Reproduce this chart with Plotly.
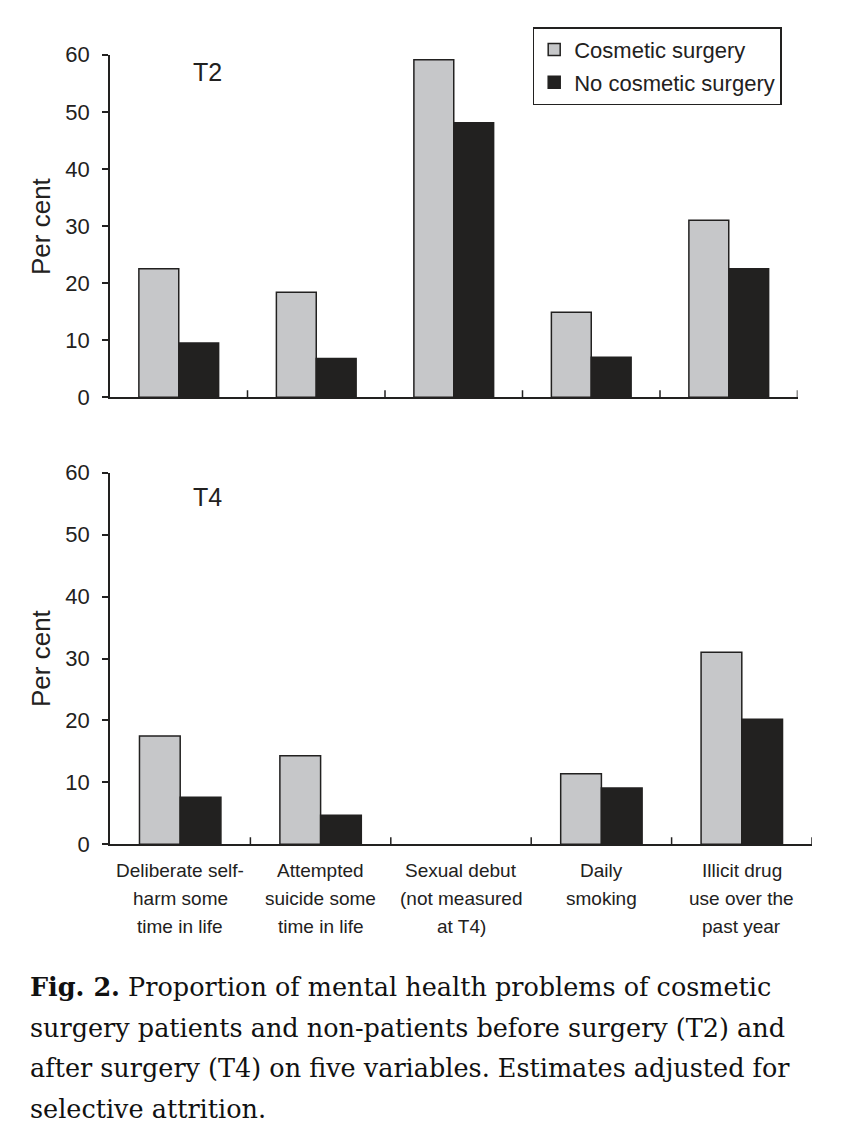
import plotly.graph_objects as go

categories = [["Deliberate self-", "harm some", "time in life"],
              ["Attempted", "suicide some", "time in life"],
              ["Sexual debut", "(not measured", "at T4)"],
              ["Daily", "smoking"],
              ["Illicit drug", "use over the", "past year"]]
series_names = ["Cosmetic surgery", "No cosmetic surgery"]
t2_cosmetic = [22.5, 18.4, 59.1, 14.9, 31.0]
t2_none = [9.5, 6.8, 48.1, 7.0, 22.5]
t4_cosmetic = [17.5, 14.3, None, 11.4, 31.0]
t4_none = [7.6, 4.7, None, 9.1, 20.2]
y_ticks = [0, 10, 20, 30, 40, 50, 60]

W, H = 866, 1141
OFF = 8  # page body margin added by the browser
GRAY = "#c6c7c9"
DARK = "#222120"
idx = list(range(len(categories)))

fig = go.Figure()
fig.add_trace(go.Bar(x=idx, y=t2_cosmetic, name=series_names[0], marker=dict(color=GRAY, line=dict(color=DARK, width=1.5)),
                     xaxis="x", yaxis="y", legendgroup="a"))
fig.add_trace(go.Bar(x=idx, y=t2_none, name=series_names[1], marker=dict(color=DARK, line=dict(color=DARK, width=1.5)),
                     xaxis="x", yaxis="y", legendgroup="b"))
fig.add_trace(go.Bar(x=idx, y=t4_cosmetic, name=series_names[0], marker=dict(color=GRAY, line=dict(color=DARK, width=1.5)),
                     xaxis="x2", yaxis="y2", showlegend=False, legendgroup="a"))
fig.add_trace(go.Bar(x=idx, y=t4_none, name=series_names[1], marker=dict(color=DARK, line=dict(color=DARK, width=1.5)),
                     xaxis="x2", yaxis="y2", showlegend=False, legendgroup="b"))

def px_x(p):
    return (p - OFF) / W

def px_y(p):
    return 1 - (p - OFF) / H

SANS = "Liberation Sans, Arial, sans-serif"
axfont = dict(family=SANS, size=22, color=DARK)
common_x = dict(range=[-0.5, 4.5], showline=True, linecolor=DARK, linewidth=1.5, showgrid=False,
                zeroline=False, ticks="", fixedrange=True, automargin=False, showticklabels=False)
common_y = dict(range=[0, 60], tickvals=y_ticks, showline=True, linecolor=DARK, linewidth=1.5,
                showgrid=False, zeroline=False, ticks="outside", ticklen=6, tickwidth=1.5,
                tickcolor=DARK, tickfont=axfont, ticklabelstandoff=8, automargin=False)

fig.update_layout(
    width=W, height=H, margin=dict(l=0, r=0, t=0, b=0, autoexpand=False),
    paper_bgcolor="white", plot_bgcolor="white",
    barmode="group", bargap=0.42, bargroupgap=0,
    xaxis=dict(common_x, domain=[px_x(110), px_x(797.5)], anchor="y"),
    yaxis=dict(common_y, domain=[px_y(397.3), px_y(54.7)], anchor="x"),
    xaxis2=dict(common_x, domain=[px_x(110), px_x(812)], anchor="y2"),
    yaxis2=dict(common_y, domain=[px_y(844.3), px_y(472.7)], anchor="x2"),
    legend=dict(x=px_x(532.7), y=px_y(27.3), xanchor="left", yanchor="top",
                bordercolor=DARK, borderwidth=1.5, bgcolor="white",
                font=dict(family=SANS, size=22, color=DARK),
                traceorder="grouped", tracegroupgap=1, itemwidth=30),
    showlegend=True,
)

# crossing boundary ticks on x axes
shapes = []
for xr, yr in (("x", "y"), ("x2", "y2")):
    for b in [0.5, 1.5, 2.5, 3.5, 4.5]:
        shapes.append(dict(type="line", xref=xr, yref=yr, x0=b, x1=b, ysizemode="pixel", yanchor=0,
                           y0=-7, y1=7, line=dict(color=DARK, width=1.5)))
fig.update_layout(shapes=shapes)

ann = []
ann.append(dict(text="T2", x=px_x(207), y=px_y(72), xref="paper", yref="paper", showarrow=False,
                xanchor="center", yanchor="middle", font=dict(family=SANS, size=25, color=DARK)))
ann.append(dict(text="T4", x=px_x(207), y=px_y(497), xref="paper", yref="paper", showarrow=False,
                xanchor="center", yanchor="middle", font=dict(family=SANS, size=25, color=DARK)))
for yc in (226, 658):
    ann.append(dict(text="Per cent", x=px_x(41), y=px_y(yc), xref="paper", yref="paper", showarrow=False,
                    xanchor="center", yanchor="middle", textangle=-90,
                    font=dict(family=SANS, size=26, color=DARK)))

# category labels (one annotation per line, placed through the x2 scale)
for i, lines in enumerate(categories):
    for j, line in enumerate(lines):
        ann.append(dict(text=line, x=idx[i], xref="x2", y=px_y(871 + 27.5 * j), yref="paper",
                        showarrow=False, xanchor="center", yanchor="middle",
                        font=dict(family=SANS, size=19, color=DARK)))

caption = ["<b>Fig. 2.</b> Proportion of mental health problems of cosmetic",
           "surgery patients and non-patients before surgery (T2) and",
           "after surgery (T4) on five variables. Estimates adjusted for",
           "selective attrition."]
for line, yc in zip(caption, (987, 1028, 1068, 1109)):
    ann.append(dict(text=line, x=px_x(28), y=px_y(yc), xref="paper", yref="paper", showarrow=False,
                    xanchor="left", yanchor="middle",
                    font=dict(family="DejaVu Serif, serif", size=25.5, color="#111111")))
fig.update_layout(annotations=ann)

fig.write_html("out.html")
